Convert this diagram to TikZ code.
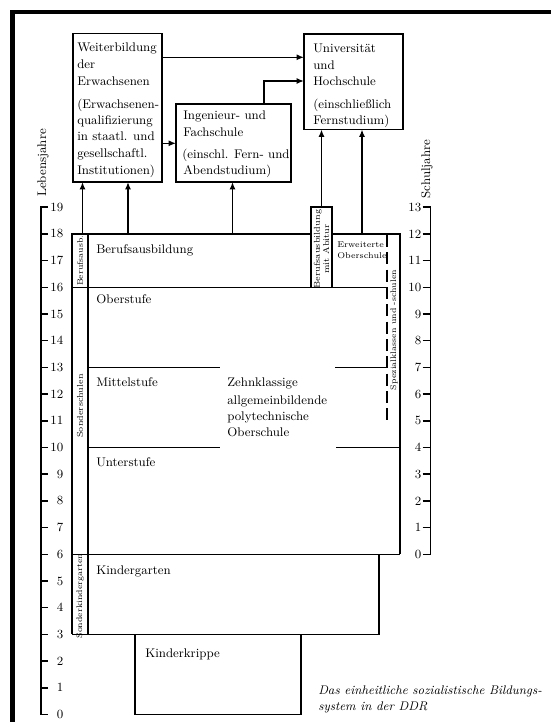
\documentclass[tikz,border=0pt]{standalone}
\usetikzlibrary{arrows.meta}
\begin{document}
\begin{tikzpicture}[x=0.75pt,y=-0.75pt,
  line join=miter,
  box/.style={draw,line width=1.1pt,inner sep=0pt,outer sep=0pt},
  ln/.style={line width=1.1pt},
  dashln/.style={line width=1.1pt,dash pattern=on 9pt off 4pt},
  arr/.style={line width=1.1pt,-{Latex[length=5.5pt,width=4.5pt]}},
  txt/.style={inner sep=0pt,anchor=base west,font=\fontsize{9.4}{13}\selectfont},
  small/.style={inner sep=0pt,anchor=base west,font=\fontsize{6.3}{8}\selectfont},
  rot/.style={inner sep=0pt,rotate=90,font=\fontsize{6.1}{6.8}\selectfont},
  num/.style={inner sep=0pt,font=\fontsize{9.4}{11}\selectfont},
  captxt/.style={inner sep=0pt,anchor=base west,font=\fontsize{9.4}{12}\itshape},
]
\useasboundingbox (0,0) rectangle (551,722);
% frame
\draw[line width=3.6pt] (12.5,722) -- (12.5,12) -- (551,12);

% upper boxes
\node[box,minimum width=66.75pt,minimum height=111.4pt] (W) at (117.5,107.75) {};
\node[box,minimum width=86.25pt,minimum height=58.5pt] (I) at (233.5,143) {};
\node[box,minimum width=74.25pt,minimum height=71.6pt] (U) at (353.5,81.75) {};

\node[txt] (W1) at (77,51.5) {Weiterbildung};
\node[txt] (W2) at (77,68.5) {der};
\node[txt] (W3) at (77,85) {Erwachsenen};
\node[txt] (W4) at (77,108.3) {(Erwachsenen-};
\node[txt] (W5) at (77,124.5) {qualifizierung};
\node[txt] (W6) at (77,140.5) {in staatl. und};
\node[txt] (W7) at (77,157.3) {gesellschaftl.};
\node[txt] (W8) at (77,174.3) {Institutionen)};

\node[txt] (I1) at (183,119.3) {Ingenieur- und};
\node[txt] (I2) at (183,136) {Fachschule};
\node[txt] (I3) at (182,158.8) {(einschl. Fern- und};
\node[txt] (I4) at (183,174.3) {Abendstudium)};

\node[txt] (U1) at (313,52.5) {Universität};
\node[txt] (U2) at (313,69) {und};
\node[txt] (U3) at (313,85.5) {Hochschule};
\node[txt] (U4) at (313,108) {(einschließlich};
\node[txt] (U5) at (313,124) {Fernstudium)};

% arrows between upper boxes
\coordinate (y57) at (0,57.3);
\coordinate (y143) at (0,143.3);
\coordinate (y81) at (0,81);
\coordinate (x264) at (264,0);
\draw[arr] (W.east |- y57) -- (U.west |- y57);
\draw[arr] (W.east |- y143) -- (I.west |- y143);
\draw[arr] (I.north -| x264) |- (U.west |- y81);

% Berufsausbildung mit Abitur box
\node[box,minimum width=15.75pt,minimum height=60.1pt] (BA) at (321.5,247.25) {};
\node[rot,align=center,font=\fontsize{6.4}{7}\selectfont] (BAt) at (321.5,249) {Berufsausbildung\\mit Abitur};

% main structure
\draw[ln] (311,233.9) -- (72,233.9) -- (72,634.4);
\draw[ln] (332,233.9) -- (400,233.9) -- (400,554.3);
\draw[ln] (88,233.9) -- (88,634.4);
\draw[ln] (72,287.3) -- (387,287.3);
\draw[ln] (88,367.4) -- (220,367.4);
\draw[ln] (335,367.4) -- (387,367.4);
\draw[ln] (88,447.5) -- (220,447.5);
\draw[ln] (336,447.5) -- (400,447.5);
\draw[ln] (72,554.3) -- (400,554.3);
\draw[ln] (379,554.3) -- (379,634.4) -- (72,634.4);
\draw[dashln] (387,235) -- (387,421);
\node[box,minimum width=124.5pt,minimum height=60.075pt] (KK) at (218,674.45) {};

% arrows from the school block
\coordinate (t1) at (82.5,233.9);
\coordinate (t2) at (128,233.9);
\coordinate (t3) at (232.5,233.9);
\coordinate (t5) at (362,233.9);
\draw[arr] (t1) -- (t1 |- W.south);
\draw[arr] (t2) -- (t2 |- W.south);
\draw[arr] (t3) -- (t3 |- I.south);
\draw[arr] (BA.north) -- (BA.north |- U.south);
\draw[arr] (t5) -- (t5 |- U.south);

% labels in the block
\node[txt] (Bf) at (96,253.5) {Berufsausbildung};
\node[txt] (Ob) at (96,303.5) {Oberstufe};
\node[txt] (Mi) at (96,386) {Mittelstufe};
\node[txt] (Un) at (96,466) {Unterstufe};
\node[txt] (Kg) at (96,574) {Kindergarten};
\node[txt] (Kk) at (145,657) {Kinderkrippe};
\node[txt] (Z1) at (227,386) {Zehnklassige};
\node[txt] (Z2) at (227,404) {allgemeinbildende};
\node[txt] (Z3) at (227,420) {polytechnische};
\node[txt] (Z4) at (227,436.5) {Oberschule};
\node[small] (E1) at (337,247.5) {Erweiterte};
\node[small] (E2) at (337,258.5) {Oberschule};
\node[rot] (BAs) at (80,260.6) {Berufsausb.};
\node[rot,font=\fontsize{6.3}{7}\selectfont] (SS) at (80,406) {Sonderschulen};
\node[rot] (SK) at (80,596) {Sonderkindergarten};
\node[rot] (SP) at (394,330) {Spezialklassen und -schulen};

% left axis
\draw[ln] (47.7,207.2) -- (41,207.2) -- (41,714.5) -- (47.7,714.5);
\foreach \a in {1,...,18}{\draw[ln] (41,{714.5-26.7*\a}) -- (47.7,{714.5-26.7*\a});}
\foreach \a in {0,...,19}{\node[num,anchor=east] (L\a) at (63.5,{714.5-26.7*\a}) {\a};}
\node[rot,font=\fontsize{9.4}{10}\selectfont] (LJ) at (43,163) {Lebensjahre};

% right axis
\draw[ln] (422.7,207.2) -- (430.7,207.2) -- (430.7,554.3) -- (422.7,554.3);
\foreach \s in {1,...,12}{\draw[ln] (422.7,{554.3-26.7*\s}) -- (430.7,{554.3-26.7*\s});}
\foreach \s in {0,...,13}{\node[num,anchor=east] (R\s) at (421.5,{554.3-26.7*\s}) {\s};}
\node[rot,font=\fontsize{9.4}{10}\selectfont] (SJ) at (427,169) {Schuljahre};

% caption
\node[captxt] (C1) at (318,694) {Das einheitliche sozialistische Bildungs-};
\node[captxt] (C2) at (318,710) {system in der DDR};
\end{tikzpicture}
\end{document}
